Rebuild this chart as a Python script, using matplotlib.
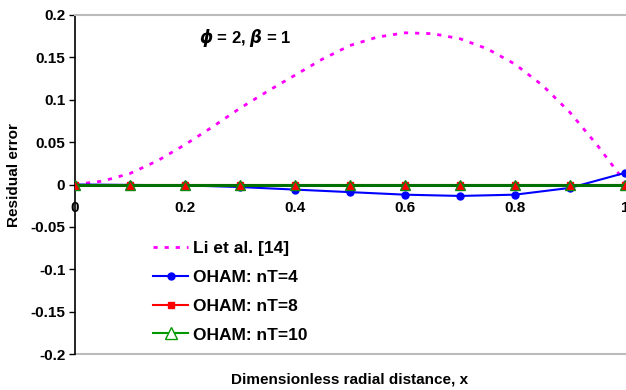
import matplotlib
matplotlib.use("Agg")
import matplotlib.pyplot as plt
from matplotlib.lines import Line2D

plt.rcParams['font.family'] = ['Liberation Sans', 'DejaVu Sans']
plt.rcParams['font.weight'] = 'bold'

# Li et al. [14]
x_li = [0.0, 0.05, 0.1, 0.15, 0.2, 0.25, 0.3, 0.35, 0.4, 0.45, 0.5,
        0.55, 0.6, 0.65, 0.7, 0.75, 0.8, 0.85, 0.9, 0.95, 1.0]
y_li = [0.0, 0.004, 0.013, 0.028, 0.047, 0.068, 0.090, 0.110, 0.129, 0.148, 0.164,
        0.174, 0.179, 0.178, 0.172, 0.160, 0.142, 0.117, 0.085, 0.046, 0.003]

x_oham = [0.0, 0.1, 0.2, 0.3, 0.4, 0.5, 0.6, 0.7, 0.8, 0.9, 1.0]
y_nt4 = [0.0, -0.0005, -0.001, -0.003, -0.006, -0.009, -0.012, -0.0135, -0.012, -0.004, 0.0137]
y_nt8 = [0.0, 0.0, 0.0, 0.0, 0.0, 0.0, 0.0, 0.0, 0.0, 0.0, 0.0]
y_nt10 = [0.0, 0.0, 0.0, 0.0, 0.0, 0.0, 0.0, 0.0, 0.0, 0.0, 0.0]

x_ticks = [0, 0.2, 0.4, 0.6, 0.8, 1]
x_ticklabels = ['0', '0.2', '0.4', '0.6', '0.8', '1']
y_ticks = [-0.2, -0.15, -0.1, -0.05, 0, 0.05, 0.1, 0.15, 0.2]
y_ticklabels = ['-0.2', '-0.15', '-0.1', '-0.05', '0', '0.05', '0.1', '0.15', '0.2']

fig = plt.figure(figsize=(6.26, 3.90), dpi=100)
ax = fig.add_axes([75/626, 36/390, 550/626, 339/390])

l1, = ax.plot(x_li, y_li, color='#FF00FF', linestyle=(0, (1.5, 2.5)), linewidth=2,
              label='Li et al. [14]', zorder=3)
l2, = ax.plot(x_oham, y_nt4, color='#0000FF', linewidth=1.5, marker='o', markersize=5,
              label='OHAM: nT=4', zorder=4)
l3, = ax.plot(x_oham, y_nt8, color='#FF0000', linewidth=1.5, marker='s', markersize=5,
              label='OHAM: nT=8', zorder=5)
l4, = ax.plot(x_oham, y_nt10, color='#007000', linewidth=2.2, marker='^', markersize=7,
              markerfacecolor='#FF0000', markeredgecolor='#118811', markeredgewidth=1.0,
              label='OHAM: nT=10', zorder=6)

ax.set_xlim(0, 1)
ax.set_ylim(-0.2, 0.2)
ax.set_xticks(x_ticks)
ax.set_xticklabels(x_ticklabels)
ax.set_yticks(y_ticks)
ax.set_yticklabels(y_ticklabels)

ax.spines['bottom'].set_position(('data', 0))
ax.spines['bottom'].set_visible(False)
ax.spines['right'].set_visible(False)
ax.spines['top'].set_color('#BBBBBB')
ax.spines['top'].set_linewidth(1.5)
ax.spines['left'].set_color('black')
ax.spines['left'].set_linewidth(1.2)
ax.axhline(-0.2, color='#BBBBBB', linewidth=1.5, clip_on=False, zorder=1)

ax.tick_params(axis='y', direction='out', length=4, width=1, labelsize=11, pad=3)
ax.tick_params(axis='x', direction='out', length=0, labelsize=11, pad=12)
for t in ax.get_xticklabels() + ax.get_yticklabels():
    t.set_fontweight('bold')

fig.text(14/626, 1 - 175/390, 'Residual error', rotation=90, ha='center', va='center',
         fontsize=11, fontweight='bold')
fig.text(350/626, 1 - 380/390, 'Dimensionless radial distance, x', ha='center', va='center',
         fontsize=11, fontweight='bold')

ax.text(0.309, 0.932, r'$\boldsymbol{\phi}$ = 2, $\boldsymbol{\beta}$ = 1', fontsize=12,
        fontweight='bold', ha='center', va='center', transform=ax.transAxes)

h4 = Line2D([], [], color='#009900', linewidth=1.5, marker='^', markersize=8,
            markerfacecolor='white', markeredgecolor='#009900')
h2 = Line2D([], [], color='#0000FF', linewidth=1.5, marker='o', markersize=5)
h3 = Line2D([], [], color='#FF0000', linewidth=1.5, marker='s', markersize=5)
h1 = Line2D([], [], color='#FF00FF', linestyle=(0, (1.5, 2.5)), linewidth=2)
leg = ax.legend([h1, h2, h3, h4], [l1.get_label(), l2.get_label(), l3.get_label(), l4.get_label()],
                loc='upper left', bbox_to_anchor=(0.13, 0.353), frameon=False,
                prop={'size': 12.5, 'weight': 'bold'}, handlelength=2.0, handletextpad=0.3,
                labelspacing=0.78, borderaxespad=0)

fig.savefig('out.png', dpi=100)
